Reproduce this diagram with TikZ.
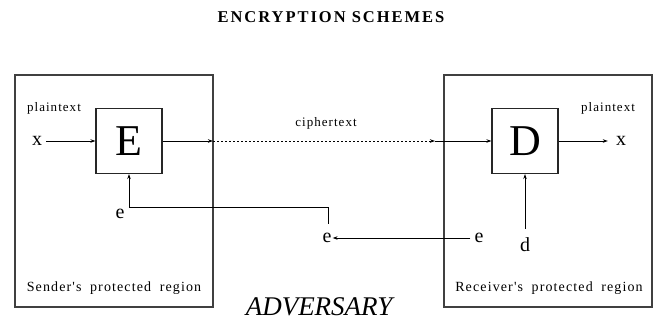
\documentclass[tikz,border=0pt]{standalone}
\usepackage{fontspec}
\setmainfont{Liberation Serif}
\newfontfamily\titlefont[LetterSpace=12]{Liberation Serif}
\newfontfamily\lblfont[LetterSpace=8]{Liberation Serif}
\usetikzlibrary{arrows.meta}
\begin{document}
\begin{tikzpicture}[x=1pt,y=-1pt,
  region/.style={draw=black!75,line width=1.3pt},
  cipherbox/.style={draw=black!85,line width=1.1pt,minimum width=66pt,minimum height=65pt,inner sep=0pt,font=\fontsize{44}{44}\selectfont},
  conn/.style={line width=0.9pt,-{Stealth[length=5pt,width=3.5pt]}},
  plain/.style={line width=0.9pt},
  dots/.style={line width=0.9pt,dash pattern=on 2pt off 2pt},
  small/.style={inner sep=0pt,anchor=base,font=\lblfont\fontsize{13}{13}\selectfont},
  region lbl/.style={inner sep=0pt,anchor=base,font=\lblfont\fontsize{14}{14}\selectfont},
  var/.style={inner sep=0pt,anchor=base,font=\fontsize{20}{20}\selectfont}]
\useasboundingbox (0,0) rectangle (655,320);
% title
\node[inner sep=0pt,anchor=base,font=\titlefont\bfseries\fontsize{16.5}{16.5}\selectfont] (title) at (331,23) {ENCRYPTION SCHEMES};
% regions
\node[region,minimum width=198pt,minimum height=232pt,inner sep=0pt] (sender) at (114,191) {};
\node[region,minimum width=208pt,minimum height=232pt,inner sep=0pt] (receiver) at (548,191) {};
\node[region lbl] (slbl) at (114,291) {Sender's\hspace{4pt} protected\hspace{4pt} region};
\node[region lbl] (rlbl) at (549,291) {Receiver's\hspace{4pt} protected\hspace{4pt} region};
% boxes
\node[cipherbox] (E) at (129,141) {E};
\node[cipherbox] (D) at (525,141) {D};
% labels
\node[small] (ptl) at (54,112) {plaintext};
\node[small] (ptr) at (608,112) {plaintext};
\node[small] (ct) at (326,127) {ciphertext};
\node[var,anchor=center] (xl) at (37,141) {x};
\node[var,anchor=center] (xr) at (621,141) {x};
\node[var,anchor=center] (el) at (120,214) {e};
\node[var,anchor=center] (em) at (327,238) {e};
\node[var,anchor=center] (er) at (479,238) {e};
\node[var,anchor=center] (d) at (525,245) {d};
\node[inner sep=0pt,anchor=base,font=\itshape\fontsize{27}{27}\selectfont] (adv) at (319,315) {ADVERSARY};
% coordinates
\coordinate (sout) at (213,141);
\coordinate (rin) at (435,141);
\coordinate (ebot) at (129,207);
\coordinate (kturn) at (328,207);
\coordinate (kend) at (328,224);
\coordinate (dstart) at (525,229);
% connectors
\draw[conn] (xl.east) ++(4,0) -- (E.west);
\draw[conn] (E.east) -- (sout);
\draw[dots,-{Stealth[length=5pt,width=3.5pt]}] (sout) -- (rin);
\draw[conn] (rin) -- (D.west);
\draw[conn] (D.east) -- ([xshift=-8pt]xr.west);
\draw[plain] (kend) -- (kturn) -- (ebot);
\draw[conn] (ebot) -- (E.south);
\draw[conn] (dstart) -- (D.south);
\draw[conn] ([xshift=-4pt]er.west) -- ([xshift=1pt]em.east);
\end{tikzpicture}
\end{document}
